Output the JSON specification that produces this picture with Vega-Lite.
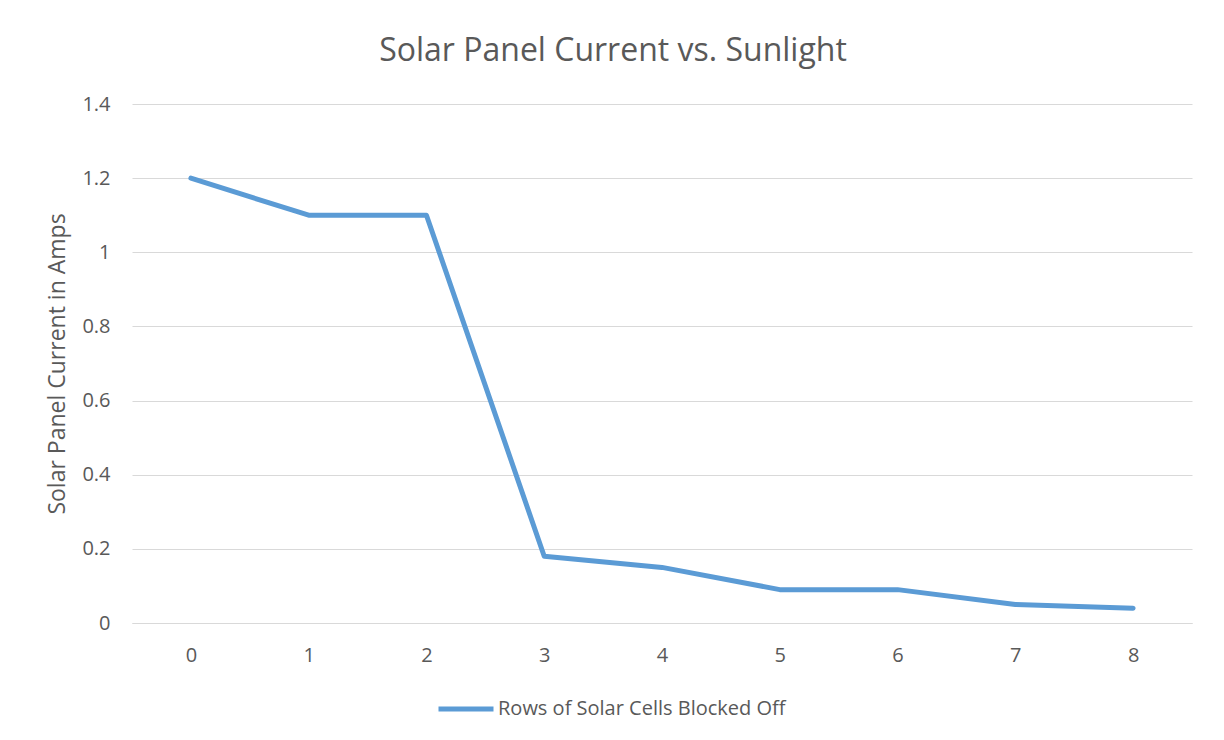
{
  "$schema": "https://vega.github.io/schema/vega-lite/v6.json",
  "width": 1060,
  "height": 519,
  "autosize": {"type": "none"},
  "padding": {"left": 132, "top": 104, "right": 32, "bottom": 117},
  "background": "white",
  "title": {
    "text": "Solar Panel Current vs. Sunlight",
    "anchor": "middle",
    "dx": -49,
    "offset": 26,
    "font": "Open Sans",
    "fontSize": 32,
    "fontWeight": "normal",
    "color": "#595959"
  },
  "data": {
    "values": [
      {"rows": 0, "current": 1.2, "series": "Rows of Solar Cells Blocked Off"},
      {"rows": 1, "current": 1.1, "series": "Rows of Solar Cells Blocked Off"},
      {"rows": 2, "current": 1.1, "series": "Rows of Solar Cells Blocked Off"},
      {"rows": 3, "current": 0.18, "series": "Rows of Solar Cells Blocked Off"},
      {"rows": 4, "current": 0.15, "series": "Rows of Solar Cells Blocked Off"},
      {"rows": 5, "current": 0.09, "series": "Rows of Solar Cells Blocked Off"},
      {"rows": 6, "current": 0.09, "series": "Rows of Solar Cells Blocked Off"},
      {"rows": 7, "current": 0.05, "series": "Rows of Solar Cells Blocked Off"},
      {"rows": 8, "current": 0.04, "series": "Rows of Solar Cells Blocked Off"}
    ]
  },
  "mark": {"type": "line", "strokeWidth": 5, "strokeCap": "round", "strokeJoin": "round"},
  "encoding": {
    "x": {
      "field": "rows",
      "type": "ordinal",
      "scale": {"type": "point", "padding": 0.5},
      "axis": {
        "title": null,
        "labelAngle": 0,
        "ticks": false,
        "domain": true,
        "domainColor": "#D9D9D9",
        "domainWidth": 1,
        "grid": false,
        "labelPadding": 22,
        "labelFontSize": 20,
        "labelFont": "Open Sans",
        "labelColor": "#595959"
      }
    },
    "y": {
      "field": "current",
      "type": "quantitative",
      "scale": {"domain": [0, 1.4], "nice": false},
      "axis": {
        "title": "Solar Panel Current in Amps",
        "titleFont": "Open Sans",
        "titleFontSize": 23,
        "titleFontWeight": "normal",
        "titleColor": "#595959",
        "titlePadding": 12,
        "values": [0, 0.2, 0.4, 0.6, 0.8, 1, 1.2, 1.4],
        "format": "~g",
        "ticks": false,
        "domain": false,
        "grid": true,
        "gridColor": "#D9D9D9",
        "gridWidth": 1,
        "labelPadding": 22,
        "labelFontSize": 20,
        "labelFont": "Open Sans",
        "labelColor": "#595959"
      }
    },
    "color": {
      "field": "series",
      "type": "nominal",
      "scale": {"range": ["#5B9BD5"]},
      "legend": {
        "title": null,
        "orient": "none",
        "legendX": 304,
        "legendY": 575,
        "direction": "horizontal",
        "symbolType": "stroke",
        "symbolSize": 3025,
        "symbolStrokeWidth": 5,
        "labelFont": "Open Sans",
        "labelFontSize": 20,
        "labelColor": "#595959",
        "labelOffset": 2,
        "labelLimit": 600
      }
    }
  },
  "config": {"view": {"stroke": null}}
}
